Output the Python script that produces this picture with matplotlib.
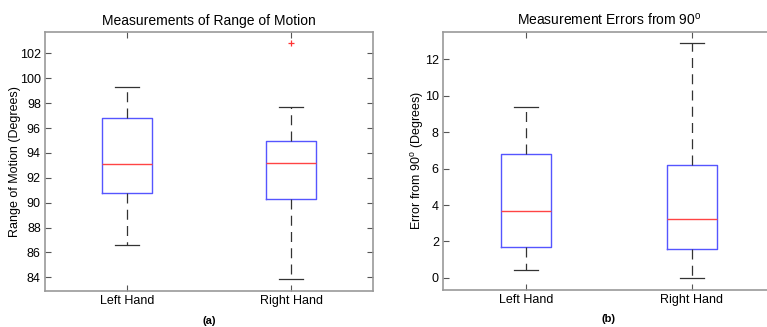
import matplotlib
matplotlib.use("Agg")
import matplotlib.pyplot as plt

plt.rcParams['font.family'] = ['Liberation Sans', 'DejaVu Sans']
plt.rcParams['mathtext.fontset'] = 'custom'
plt.rcParams['mathtext.rm'] = 'Liberation Sans'
plt.rcParams['mathtext.it'] = 'Liberation Sans'

categories = ["Left Hand", "Right Hand"]

# Panel (a): Range of motion box statistics (degrees)
rom_whislo = [86.58, 83.84]
rom_q1 = [90.77, 90.28]
rom_med = [93.11, 93.18]
rom_q3 = [96.79, 94.96]
rom_whishi = [99.32, 97.70]
rom_fliers = [[], [102.85]]

# Panel (b): Errors from 90 degrees
err_whislo = [0.45, 0.0]
err_q1 = [1.67, 1.56]
err_med = [3.67, 3.25]
err_q3 = [6.80, 6.18]
err_whishi = [9.36, 12.88]
err_fliers = [[], []]


def stats(lo, q1, med, q3, hi, fl):
    out = []
    for i in range(len(lo)):
        out.append(dict(whislo=lo[i], q1=q1[i], med=med[i], q3=q3[i],
                        whishi=hi[i], fliers=fl[i], label=categories[i]))
    return out


W, H = 767, 327
fig = plt.figure(figsize=(W / 100, H / 100), dpi=100)

spine_c = '#999999'
fs = 9


def draw(ax, st, ylim, yticks, ylabel, title, sub, lpad):
    ax.bxp(st, positions=[1, 2], widths=0.3, showfliers=True,
           boxprops=dict(color='#5555ff', lw=1.0),
           medianprops=dict(color='#ff4444', lw=1.0),
           whiskerprops=dict(color='#333333', lw=0.9, ls=(0, (8, 5))),
           capprops=dict(color='#333333', lw=0.9),
           flierprops=dict(marker='+', markeredgecolor='#ff3333', markersize=5,
                           markeredgewidth=0.9, linestyle='none'))
    ax.set_xlim(0.5, 2.5)
    ax.set_ylim(*ylim)
    ax.set_yticks(yticks)
    ax.set_xticks([1, 2])
    ax.set_xticklabels(categories, fontsize=fs)
    ax.tick_params(axis='both', direction='in', length=4, width=0.8,
                   color='#555555', labelsize=fs, top=True, right=True)
    ax.tick_params(axis='x', pad=3)
    ax.tick_params(axis='y', pad=3)
    for s in ax.spines.values():
        s.set_color(spine_c)
        s.set_linewidth(1.2)
    ax.set_ylabel(ylabel, fontsize=fs, labelpad=lpad)
    ax.set_title(title, fontsize=10, pad=5)
    ax.text(0.5, -0.116, sub, transform=ax.transAxes, ha='center', va='center',
            fontsize=8, fontweight='bold')


ax1 = fig.add_axes([45 / W, 1 - 291 / H, 328 / W, 259 / H])
draw(ax1, stats(rom_whislo, rom_q1, rom_med, rom_q3, rom_whishi, rom_fliers),
     (82.9, 103.72), list(range(84, 103, 2)), "Range of Motion (Degrees)",
     "Measurements of Range of Motion", "(a)", -1)

ax2 = fig.add_axes([443 / W, 1 - 289.5 / H, 332 / W, 257.8 / H])
draw(ax2, stats(err_whislo, err_q1, err_med, err_q3, err_whishi, err_fliers),
     (-0.64, 13.52), list(range(0, 13, 2)), r"Error from 90$^\mathrm{o}$ (Degrees)",
     r"Measurement Errors from 90$^\mathrm{o}$", "(b)", -1)

fig.savefig("out.png", dpi=100)
